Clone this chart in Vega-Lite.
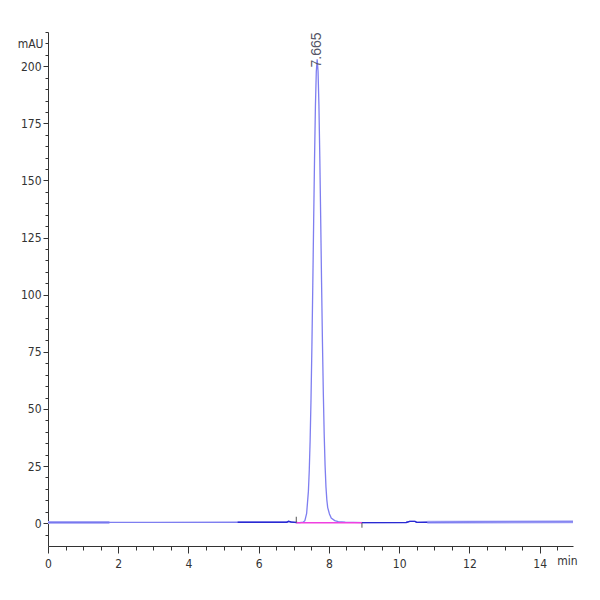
{
  "$schema": "https://vega.github.io/schema/vega-lite/v6.json",
  "autosize": "none",
  "padding": {"left": 48, "top": 32, "right": 27, "bottom": 54},
  "width": 525,
  "height": 514,
  "background": "white",
  "datasets": {
    "trace": [
      {"t": 0, "mau": 0.3}, {"t": 1.75, "mau": 0.3}, {"t": 3.0, "mau": 0.35}, {"t": 5.4, "mau": 0.4},
      {"t": 6.8, "mau": 0.4}, {"t": 6.85, "mau": 0.8}, {"t": 6.92, "mau": 0.5}, {"t": 7.0, "mau": 0.3},
      {"t": 7.165, "mau": 0.2}, {"t": 7.265, "mau": 0.4}, {"t": 7.315, "mau": 1.1}, {"t": 7.365, "mau": 4.3},
      {"t": 7.415, "mau": 13.9}, {"t": 7.44, "mau": 23.2}, {"t": 7.465, "mau": 36.5}, {"t": 7.49, "mau": 54.6},
      {"t": 7.515, "mau": 77.4}, {"t": 7.54, "mau": 103.9}, {"t": 7.565, "mau": 132.2}, {"t": 7.59, "mau": 159.5},
      {"t": 7.615, "mau": 182.4}, {"t": 7.64, "mau": 197.6}, {"t": 7.665, "mau": 203}, {"t": 7.69, "mau": 197.8},
      {"t": 7.715, "mau": 182.8}, {"t": 7.74, "mau": 160.3}, {"t": 7.765, "mau": 133.5}, {"t": 7.79, "mau": 105.5},
      {"t": 7.815, "mau": 79.5}, {"t": 7.84, "mau": 57}, {"t": 7.865, "mau": 38.8}, {"t": 7.89, "mau": 25.3},
      {"t": 7.915, "mau": 16}, {"t": 7.94, "mau": 10.2}, {"t": 7.965, "mau": 6.8}, {"t": 8.015, "mau": 4.0},
      {"t": 8.065, "mau": 2.2}, {"t": 8.165, "mau": 1.1}, {"t": 8.265, "mau": 0.7}, {"t": 8.465, "mau": 0.4},
      {"t": 8.7, "mau": 0.3}, {"t": 9.0, "mau": 0.25}, {"t": 10.2, "mau": 0.3}, {"t": 10.3, "mau": 0.8},
      {"t": 10.45, "mau": 0.8}, {"t": 10.5, "mau": 0.35}, {"t": 12.0, "mau": 0.5}, {"t": 14.95, "mau": 0.6}
    ],
    "bandLight": [
      {"t": 0, "mau": 0.3, "seg": "a"}, {"t": 1.75, "mau": 0.3, "seg": "a"},
      {"t": 10.8, "mau": 0.4, "seg": "b"}, {"t": 14.95, "mau": 0.6, "seg": "b"}
    ],
    "bandDark": [
      {"t": 5.4, "mau": 0.4, "seg": "a"}, {"t": 6.8, "mau": 0.4, "seg": "a"}, {"t": 6.85, "mau": 0.8, "seg": "a"},
      {"t": 6.92, "mau": 0.5, "seg": "a"}, {"t": 7.1, "mau": 0.3, "seg": "a"},
      {"t": 8.94, "mau": 0.25, "seg": "b"}, {"t": 10.2, "mau": 0.3, "seg": "b"}, {"t": 10.3, "mau": 0.8, "seg": "b"},
      {"t": 10.45, "mau": 0.8, "seg": "b"}, {"t": 10.5, "mau": 0.35, "seg": "b"}, {"t": 10.8, "mau": 0.4, "seg": "b"}
    ],
    "integration": [
      {"t": 7.07, "mau": 0.2}, {"t": 8.94, "mau": 0.2}
    ],
    "marks": [
      {"t": 7.07, "y0": 0.2, "y1": 2.8}, {"t": 8.94, "y0": 0.2, "y1": -2.0}
    ],
    "peaks": [
      {"t": 7.665, "mau": 203, "label": "7.665"}
    ]
  },
  "encoding": {
    "x": {
      "field": "t", "type": "quantitative",
      "scale": {"domain": [0, 14.95], "nice": false, "zero": false},
      "axis": {
        "title": null, "grid": false,
        "values": [0, 0.5, 1, 1.5, 2, 2.5, 3, 3.5, 4, 4.5, 5, 5.5, 6, 6.5, 7, 7.5, 8, 8.5, 9, 9.5, 10, 10.5, 11, 11.5, 12, 12.5, 13, 13.5, 14, 14.5, 14.78],
        "labelExpr": "datum.value > 14.6 ? 'min' : (datum.value % 2 === 0 ? '' + datum.value : '')",
        "tickSize": {"condition": {"test": "datum.value % 2 === 0", "value": 7}, "value": 4},
        "tickOpacity": {"condition": {"test": "datum.value > 14.6", "value": 0}, "value": 1},
        "labelPadding": 5,
        "labelFlush": false,
        "labelOverlap": false
      }
    },
    "y": {
      "field": "mau", "type": "quantitative",
      "scale": {"domain": [-10, 215], "nice": false, "zero": false},
      "axis": {
        "title": null, "grid": false,
        "values": [-5, 0, 5, 10, 15, 20, 25, 30, 35, 40, 45, 50, 55, 60, 65, 70, 75, 80, 85, 90, 95, 100, 105, 110, 115, 120, 125, 130, 135, 140, 145, 150, 155, 160, 165, 170, 175, 180, 185, 190, 195, 200, 205, 210, 215],
        "labelExpr": "datum.value === 210 ? 'mAU' : (datum.value % 25 === 0 ? datum.label : '')",
        "tickSize": {"condition": {"test": "datum.value % 25 === 0", "value": 5}, "value": 3},
        "labelPadding": 2,
        "labelFlush": false,
        "labelOverlap": false
      }
    }
  },
  "layer": [
    {
      "data": {"name": "bandLight"},
      "mark": {"type": "line", "color": "#b3b3f6", "strokeWidth": 3},
      "encoding": {"detail": {"field": "seg"}}
    },
    {
      "data": {"name": "trace"},
      "mark": {"type": "line", "color": "#7070ee", "strokeWidth": 1.3, "opacity": 0.9},
      "encoding": {}
    },
    {
      "data": {"name": "bandDark"},
      "mark": {"type": "line", "color": "#2a2ad2", "strokeWidth": 1.4},
      "encoding": {"detail": {"field": "seg"}}
    },
    {
      "data": {"name": "integration"},
      "mark": {"type": "line", "color": "#f040e0", "strokeWidth": 1.4},
      "encoding": {}
    },
    {
      "data": {"name": "marks"},
      "mark": {"type": "rule", "color": "#555555", "strokeWidth": 1},
      "encoding": {"y": {"field": "y0", "type": "quantitative"}, "y2": {"field": "y1"}}
    },
    {
      "data": {"name": "peaks"},
      "mark": {"type": "text", "angle": 270, "align": "left", "baseline": "middle", "dx": -8, "fontSize": 14, "color": "#555566", "font": "Liberation Sans"},
      "encoding": {"text": {"field": "label"}}
    }
  ],
  "config": {
    "view": {"stroke": null},
    "axis": {
      "labelFont": "DejaVu Sans Condensed, Liberation Sans Narrow, Liberation Sans",
      "labelFontSize": 12,
      "labelColor": "#333333",
      "domainColor": "#333333",
      "tickColor": "#333333",
      "domainWidth": 1,
      "tickWidth": 1
    }
  }
}
